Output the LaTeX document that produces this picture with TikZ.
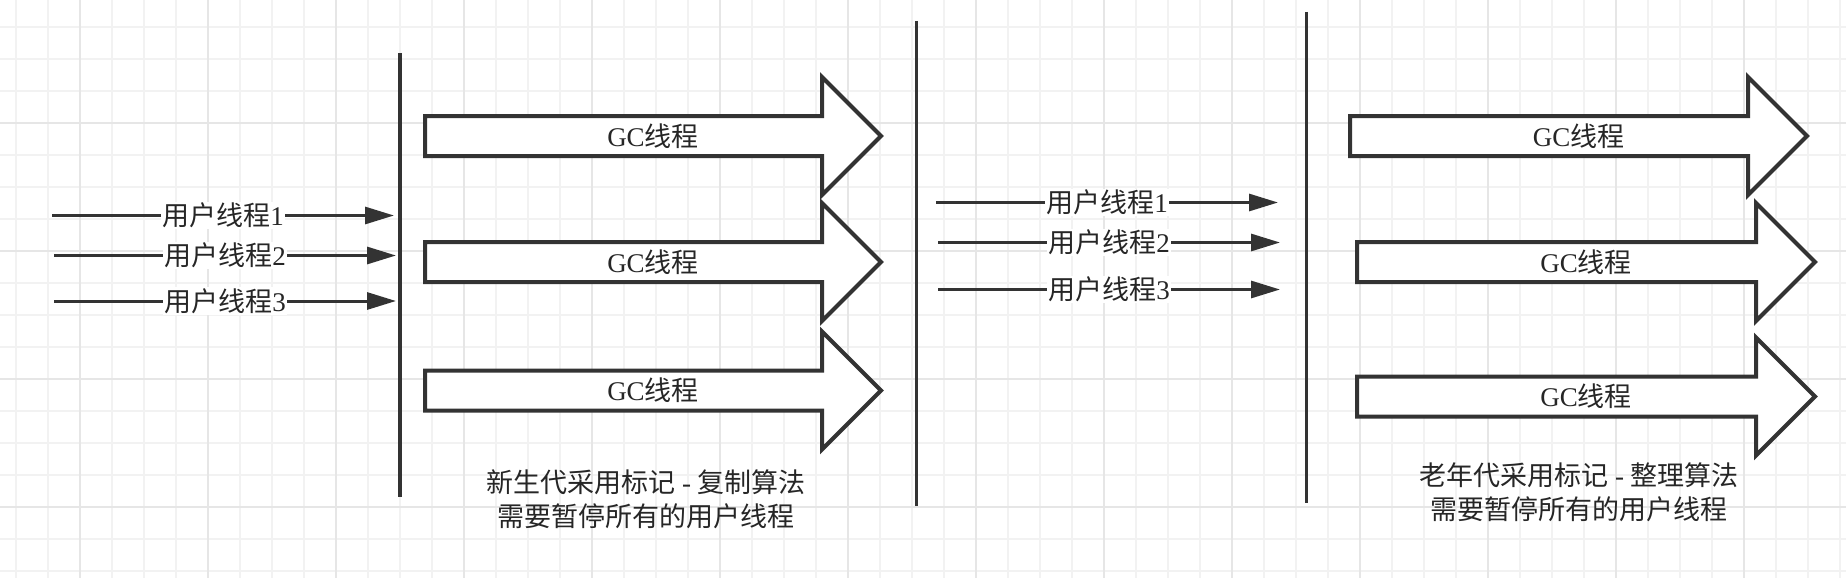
\documentclass[tikz,border=0pt]{standalone}
\usepackage{fontspec}
\setmainfont{Liberation Serif}
\newfontfamily\cjk{Noto Sans CJK SC}
\usetikzlibrary{arrows.meta}
\definecolor{ink}{HTML}{333333}
\definecolor{txt}{HTML}{262626}
\definecolor{gridminor}{HTML}{F2F2F2}
\definecolor{gridmajor}{HTML}{E6E6E6}
\newcommand\gcarrow[4]{%
  \draw[gcshape] (#2,#4-20) -- (#3-59,#4-20) -- (#3-59,#4-59) -- (#3,#4)
     -- (#3-59,#4+59) -- (#3-59,#4+20) -- (#2,#4+20) -- cycle;
  \node[gclabel] (#1) at ({(#2+#3)/2},#4) {GC{\cjk 线程}};}
\begin{document}
\begin{tikzpicture}[x=1pt,y=-1pt,
  bar/.style={draw=ink,line width=3.5pt},
  userarrow/.style={draw=ink,line width=3pt,-{Triangle[length=29pt,width=17pt]}},
  userlabel/.style={fill=white,inner sep=1pt,text=txt,font=\fontsize{27pt}{32pt}\selectfont},
  gcshape/.style={draw=ink,fill=white,line width=4pt},
  gclabel/.style={inner sep=0pt,text=txt,font=\fontsize{27pt}{32pt}\selectfont},
  note/.style={align=center,inner sep=0pt,text=txt,font=\fontsize{27pt}{34pt}\selectfont}]
\fill[white] (0,0) rectangle (1846,578);
\useasboundingbox (0,0) rectangle (1846,578);
% grid
\foreach \x in {16,48,...,1840} \draw[gridminor,line width=1.3pt] (\x,0) -- (\x,578);
\foreach \y in {27,59,...,571} \draw[gridminor,line width=1.3pt] (0,\y) -- (1846,\y);
\foreach \x in {80,208,...,1744} \draw[gridmajor,line width=2pt] (\x,0) -- (\x,578);
\foreach \y in {123,251,379,507} \draw[gridmajor,line width=2pt] (0,\y) -- (1846,\y);
% vertical bars
\coordinate (v1t) at (400,53);   \coordinate (v1b) at (400,497);
\coordinate (v2t) at (916.5,21); \coordinate (v2b) at (916.5,506);
\coordinate (v3t) at (1306.5,12);\coordinate (v3b) at (1306.5,503);
\draw[bar] (v1t) -- (v1b);
\draw[bar] (v2t) -- (v2b);
\draw[bar] (v3t) -- (v3b);
% user thread arrows, first pause
\coordinate (a1s) at (52,215.5);  \coordinate (a1e) at (394,215.5);
\coordinate (a2s) at (54,255.5);  \coordinate (a2e) at (396,255.5);
\coordinate (a3s) at (54,301);    \coordinate (a3e) at (396,301);
\draw[userarrow] (a1s) -- node[userlabel] (l1) {{\cjk 用户线程}1} (a1e);
\draw[userarrow] (a2s) -- node[userlabel] (l2) {{\cjk 用户线程}2} (a2e);
\draw[userarrow] (a3s) -- node[userlabel] (l3) {{\cjk 用户线程}3} (a3e);
% user thread arrows, second pause
\coordinate (b1s) at (936,202.5); \coordinate (b1e) at (1278,202.5);
\coordinate (b2s) at (938,242.5); \coordinate (b2e) at (1280,242.5);
\coordinate (b3s) at (938,289.5); \coordinate (b3e) at (1280,289.5);
\draw[userarrow] (b1s) -- node[userlabel] (m1) {{\cjk 用户线程}1} (b1e);
\draw[userarrow] (b2s) -- node[userlabel] (m2) {{\cjk 用户线程}2} (b2e);
\draw[userarrow] (b3s) -- node[userlabel] (m3) {{\cjk 用户线程}3} (b3e);
% GC thread arrows
\gcarrow{g1}{425}{881}{136}
\gcarrow{g2}{425}{881}{262}
\gcarrow{g3}{425}{881}{390.5}
\gcarrow{h1}{1350}{1807}{136}
\gcarrow{h2}{1357}{1815}{262}
\gcarrow{h3}{1357}{1815}{396.5}
% notes
\node[note] (n1) at (646,499.5) {{\cjk 新生代采用标记} - {\cjk 复制算法}\\{\cjk 需要暂停所有的用户线程}};
\node[note] (n2) at (1579,492.5) {{\cjk 老年代采用标记} - {\cjk 整理算法}\\{\cjk 需要暂停所有的用户线程}};
\end{tikzpicture}
\end{document}
